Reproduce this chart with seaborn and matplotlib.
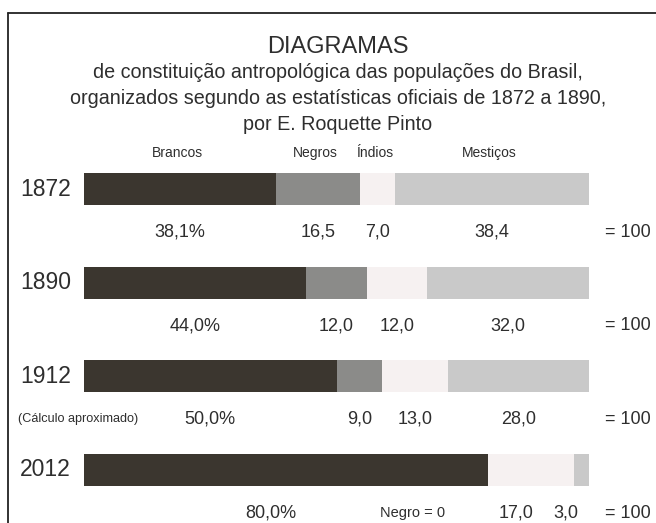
import matplotlib
matplotlib.use("Agg")
import matplotlib.pyplot as plt
from matplotlib.lines import Line2D
import seaborn as sns
import pandas as pd

# ---- data ----
years = ["1872", "1890", "1912", "2012"]
categories = ["Brancos", "Negros", "Índios", "Mestiços"]
brancos = [38.1, 44.0, 50.0, 80.0]
negros = [16.5, 12.0, 9.0, 0.0]
indios = [7.0, 12.0, 13.0, 17.0]
mesticos = [38.4, 32.0, 28.0, 3.0]
total_label = "= 100"
note_1912 = "(Cálculo aproximado)"
title = "DIAGRAMAS"
subtitle = ["de constituição antropológica das populações do Brasil,",
            "organizados segundo as estatísticas oficiais de 1872 a 1890,",
            "por E. Roquette Pinto"]

colors = ["#3b362f", "#8b8b89", "#f6f1f1", "#c9c9c9"]
row_label_shift = [0, 0, 0, -3]  # layout tweak for label placement

sns.set_theme(style="white")
FAM = ["Liberation Sans", "DejaVu Sans"]
plt.rcParams["font.family"] = FAM
TXT = "#2e2e2e"

fig = plt.figure(figsize=(6.56, 5.23), dpi=100)
fig.patch.set_facecolor("white")
ax = fig.add_axes([0, 0, 1, 1])
ax.set_facecolor("white")

df = pd.DataFrame({"year": years, "Brancos": brancos, "Negros": negros,
                   "Índios": indios, "Mestiços": mesticos})
cum = df[categories].cumsum(axis=1)

# draw stacked bars: largest cumulative first
for i in reversed(range(len(categories))):
    sns.barplot(data=cum.assign(year=years), x=categories[i], y="year",
                order=years, orient="h", color=colors[i], saturation=1,
                width=0.342, linewidth=0, edgecolor="none", ax=ax)

px = 5.05
ax.set_xlim(-84 / px, (656 - 84) / px)
ax.set_ylim(3.566, -2.018)
ax.axis("off")

def fmt(v):
    return f"{v:.1f}".replace(".", ",")

# category header labels over 1872 segments
starts0 = [0, brancos[0], brancos[0] + negros[0], brancos[0] + negros[0] + indios[0]]
vals0 = [brancos[0], negros[0], indios[0], mesticos[0]]
for c, s, v in zip(categories, starts0, vals0):
    ax.text(s + v / 2 - 0.6, -0.385, c, ha="center", va="center", fontsize=10, color=TXT)

series = [brancos, negros, indios, mesticos]
for r, y in enumerate(years):
    ax.text(-12.7, r, y, ha="left", va="center", fontsize=16.5, color=TXT)
    start = 0
    sh = row_label_shift[r]
    for k, s in enumerate(series):
        v = s[r]
        if k == 0:
            lab = fmt(v) + "%"
            xpos = start + v / 2 + sh
        elif v == 0:
            lab = "Negro = 0"
            xpos = 65
        else:
            lab = fmt(v)
            xpos = start + v / 2 + sh
        fs = 10.5 if (v == 0 and k > 0) else 13
        ax.text(xpos, r + 0.46, lab, ha="center", va="center", fontsize=fs, color=TXT)
        start += v
    ax.text(107.6, r + 0.46, total_label, ha="center", va="center", fontsize=13, color=TXT)

ax.text(-13.1, 2 + 0.46, note_1912, ha="left", va="center", fontsize=9.1, color=TXT)

# titles
cx = 338 / 656
fig.text(cx, 1 - 47 / 523, title, ha="center", va="center", fontsize=17, color=TXT)
for yy, line in zip([73, 99, 124], subtitle):
    fig.text(cx, 1 - yy / 523, line, ha="center", va="center", fontsize=14.2, color=TXT)

# frame
fx = 8 / 656
fy = 1 - 13 / 523
fig.add_artist(Line2D([fx, fx], [0, fy], transform=fig.transFigure, color="#222", lw=1.3))
fig.add_artist(Line2D([fx, 1], [fy, fy], transform=fig.transFigure, color="#222", lw=1.3))

fig.savefig("out.png", dpi=100, facecolor="white")
